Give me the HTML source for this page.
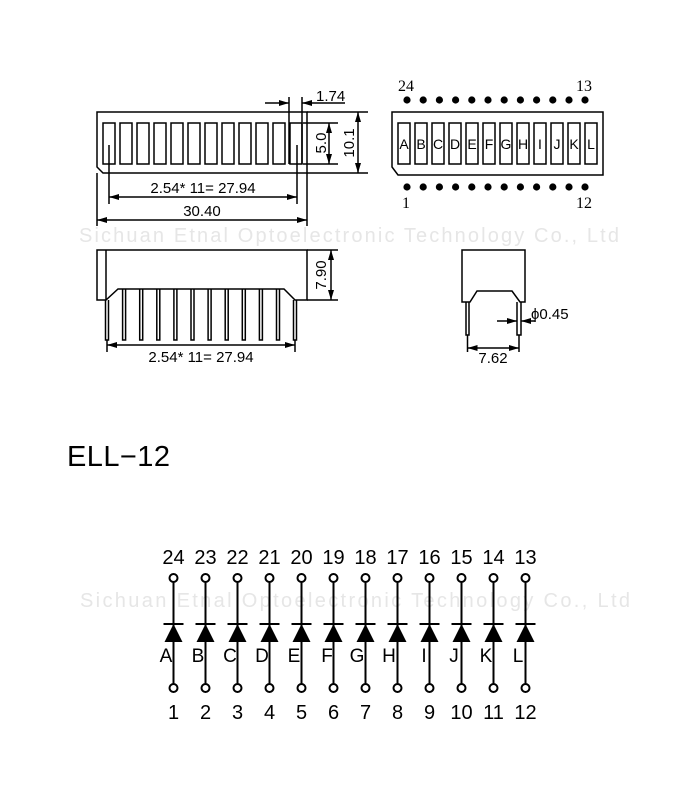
<!DOCTYPE html>
<html><head><meta charset="utf-8"><style>
html,body{margin:0;padding:0;background:#fff;}
svg{display:block;}
text{font-family:"Liberation Sans",sans-serif;fill:#000;}
.s{font-family:"Liberation Serif",serif;}
</style></head><body>
<svg width="700" height="800" viewBox="0 0 700 800" xmlns="http://www.w3.org/2000/svg">
<defs>
<marker id="ar" markerWidth="10" markerHeight="6" refX="10" refY="3" orient="auto" markerUnits="userSpaceOnUse"><path d="M0,0 L10,3 L0,6 Z" fill="#000"/></marker>
</defs>
<g stroke="#000" stroke-width="1.5" fill="none">
<path d="M97,112 H307 V173 H103 L97,167 Z"/>
<rect x="103" y="123" width="12" height="41"/><rect x="120" y="123" width="12" height="41"/><rect x="137" y="123" width="12" height="41"/><rect x="154" y="123" width="12" height="41"/><rect x="171" y="123" width="12" height="41"/><rect x="188" y="123" width="12" height="41"/><rect x="205" y="123" width="12" height="41"/><rect x="222" y="123" width="12" height="41"/><rect x="239" y="123" width="12" height="41"/><rect x="256" y="123" width="12" height="41"/><rect x="273" y="123" width="12" height="41"/><rect x="290" y="123" width="12" height="41"/>
<path d="M307,112 H368 M307,173 H368 M303,123 H338 M303,164 H338"/>
<path d="M358,112 V173"/>
<path d="M329,123 V164"/>
<path d="M289,97 V164 M302,97 V164"/>
<path d="M265,103 H289" marker-end="url(#ar)"/>
<path d="M345,103 H302" marker-end="url(#ar)"/>
<path d="M109,145 V204 M297,145 V204"/>
<path d="M109,197 H297"/>
<path d="M97,173 V226 M307,173 V226"/>
<path d="M97,220 H307"/>
</g>
<g fill="#000">
<path d="M358,112 l-3,10 h6 Z M358,173 l-3,-10 h6 Z M329,123 l-3,10 h6 Z M329,164 l-3,-10 h6 Z"/>
<path d="M109,197 l10,-3 v6 Z M297,197 l-10,-3 v6 Z M97,220 l10,-3 v6 Z M307,220 l-10,-3 v6 Z"/>
</g>
<text x="316" y="101" font-size="15">1.74</text>
<text x="326" y="143" font-size="15" transform="rotate(-90 326 143)" text-anchor="middle">5.0</text>
<text x="354" y="143" font-size="15" transform="rotate(-90 354 143)" text-anchor="middle">10.1</text>
<text x="203" y="193" font-size="15" text-anchor="middle">2.54* 11= 27.94</text>
<text x="202" y="216" font-size="15" text-anchor="middle">30.40</text>

<g fill="#000">
<circle cx="407" cy="100" r="3.6"/><circle cx="423.2" cy="100" r="3.6"/><circle cx="439.4" cy="100" r="3.6"/><circle cx="455.6" cy="100" r="3.6"/><circle cx="471.8" cy="100" r="3.6"/><circle cx="488" cy="100" r="3.6"/><circle cx="504.2" cy="100" r="3.6"/><circle cx="520.4" cy="100" r="3.6"/><circle cx="536.6" cy="100" r="3.6"/><circle cx="552.8" cy="100" r="3.6"/><circle cx="569" cy="100" r="3.6"/><circle cx="585" cy="100" r="3.6"/>
<circle cx="407" cy="187" r="3.6"/><circle cx="423.2" cy="187" r="3.6"/><circle cx="439.4" cy="187" r="3.6"/><circle cx="455.6" cy="187" r="3.6"/><circle cx="471.8" cy="187" r="3.6"/><circle cx="488" cy="187" r="3.6"/><circle cx="504.2" cy="187" r="3.6"/><circle cx="520.4" cy="187" r="3.6"/><circle cx="536.6" cy="187" r="3.6"/><circle cx="552.8" cy="187" r="3.6"/><circle cx="569" cy="187" r="3.6"/><circle cx="585" cy="187" r="3.6"/>
</g>
<text class="s" x="398" y="91" font-size="16">24</text>
<text class="s" x="576" y="91" font-size="16">13</text>
<text class="s" x="402" y="208" font-size="16">1</text>
<text class="s" x="576" y="208" font-size="16">12</text>
<g stroke="#000" stroke-width="1.5" fill="none">
<path d="M392,112 H603 V175 H398 L392,167 Z"/>
<rect x="398" y="123" width="12" height="41"/><rect x="415" y="123" width="12" height="41"/><rect x="432" y="123" width="12" height="41"/><rect x="449" y="123" width="12" height="41"/><rect x="466" y="123" width="12" height="41"/><rect x="483" y="123" width="12" height="41"/><rect x="500" y="123" width="12" height="41"/><rect x="517" y="123" width="12" height="41"/><rect x="534" y="123" width="12" height="41"/><rect x="551" y="123" width="12" height="41"/><rect x="568" y="123" width="12" height="41"/><rect x="585" y="123" width="12" height="41"/>
</g>
<g font-size="14" text-anchor="middle">
<text x="404" y="149">A</text><text x="421" y="149">B</text><text x="438" y="149">C</text><text x="455" y="149">D</text><text x="472" y="149">E</text><text x="489" y="149">F</text><text x="506" y="149">G</text><text x="523" y="149">H</text><text x="540" y="149">I</text><text x="557" y="149">J</text><text x="574" y="149">K</text><text x="591" y="149">L</text>
</g>

<g stroke="#000" stroke-width="1.5" fill="none">
<path d="M97,250 H307 V300 H295 L284,289 H118 L106,300 H97 Z M106,250 V300"/>
<path d="M307,250 H338 M307,300 H338 M331,250 V300"/>
<path d="M105.5,300 V340 H108.5 V300 M293.5,300 V340 H296.5 V300"/>
<path d="M122.6,289 V340 H125.6 V289 M139.7,289 V340 H142.7 V289 M156.8,289 V340 H159.8 V289 M173.9,289 V340 H176.9 V289 M191,289 V340 H194 V289 M208.1,289 V340 H211.1 V289 M225.2,289 V340 H228.2 V289 M242.3,289 V340 H245.3 V289 M259.4,289 V340 H262.4 V289 M276.5,289 V340 H279.5 V289"/>
<path d="M107,340 V352 M295,340 V352 M107,345 H295"/>
<path d="M462,250 H525 V302 H520 L512,291 H477 L470,302 H462 Z"/>
<path d="M466,302 V335 H469 V302 M517,302 V335 H521 V302"/>
<path d="M467.5,335 V352 M519,335 V352 M467.5,348 H519"/>
<path d="M497,321 H517" marker-end="url(#ar)"/>
<path d="M535,321 H521" marker-end="url(#ar)"/>
</g>
<g fill="#000">
<path d="M331,250 l-3,10 h6 Z M331,300 l-3,-10 h6 Z M107,345 l10,-3 v6 Z M295,345 l-10,-3 v6 Z M467.5,348 l10,-3 v6 Z M519,348 l-10,-3 v6 Z"/>
</g>
<text x="326" y="275" font-size="15" transform="rotate(-90 326 275)" text-anchor="middle">7.90</text>
<text x="201" y="362" font-size="15" text-anchor="middle">2.54* 11= 27.94</text>
<text x="493" y="363" font-size="15" text-anchor="middle">7.62</text>
<text x="531" y="319" font-size="15">ϕ0.45</text>

<text x="349" y="242" font-size="20" text-anchor="middle" style="fill:#e6e6e6" textLength="540">Sichuan Etnal Optoelectronic Technology Co., Ltd</text>

<text x="67" y="466" font-size="29" textLength="103" lengthAdjust="spacing">ELL−12</text>

<text x="355" y="607" font-size="20" text-anchor="middle" style="fill:#e6e6e6" textLength="550">Sichuan Etnal Optoelectronic Technology Co., Ltd</text>
<g stroke="#000" stroke-width="2" fill="#fff">
<path d="M173.5,582 V684 M205.5,582 V684 M237.5,582 V684 M269.5,582 V684 M301.5,582 V684 M333.5,582 V684 M365.5,582 V684 M397.5,582 V684 M429.5,582 V684 M461.5,582 V684 M493.5,582 V684 M525.5,582 V684"/>
<path d="M163.5,624 h20 M195.5,624 h20 M227.5,624 h20 M259.5,624 h20 M291.5,624 h20 M323.5,624 h20 M355.5,624 h20 M387.5,624 h20 M419.5,624 h20 M451.5,624 h20 M483.5,624 h20 M515.5,624 h20"/>
<circle cx="173.5" cy="578" r="4"/><circle cx="205.5" cy="578" r="4"/><circle cx="237.5" cy="578" r="4"/><circle cx="269.5" cy="578" r="4"/><circle cx="301.5" cy="578" r="4"/><circle cx="333.5" cy="578" r="4"/><circle cx="365.5" cy="578" r="4"/><circle cx="397.5" cy="578" r="4"/><circle cx="429.5" cy="578" r="4"/><circle cx="461.5" cy="578" r="4"/><circle cx="493.5" cy="578" r="4"/><circle cx="525.5" cy="578" r="4"/>
<circle cx="173.5" cy="688" r="4"/><circle cx="205.5" cy="688" r="4"/><circle cx="237.5" cy="688" r="4"/><circle cx="269.5" cy="688" r="4"/><circle cx="301.5" cy="688" r="4"/><circle cx="333.5" cy="688" r="4"/><circle cx="365.5" cy="688" r="4"/><circle cx="397.5" cy="688" r="4"/><circle cx="429.5" cy="688" r="4"/><circle cx="461.5" cy="688" r="4"/><circle cx="493.5" cy="688" r="4"/><circle cx="525.5" cy="688" r="4"/>
</g>
<g fill="#000">
<path d="M173.5,624 l-9,18 h18 Z M205.5,624 l-9,18 h18 Z M237.5,624 l-9,18 h18 Z M269.5,624 l-9,18 h18 Z M301.5,624 l-9,18 h18 Z M333.5,624 l-9,18 h18 Z M365.5,624 l-9,18 h18 Z M397.5,624 l-9,18 h18 Z M429.5,624 l-9,18 h18 Z M461.5,624 l-9,18 h18 Z M493.5,624 l-9,18 h18 Z M525.5,624 l-9,18 h18 Z"/>
</g>
<g font-size="20" text-anchor="middle">
<text x="173.5" y="564">24</text><text x="205.5" y="564">23</text><text x="237.5" y="564">22</text><text x="269.5" y="564">21</text><text x="301.5" y="564">20</text><text x="333.5" y="564">19</text><text x="365.5" y="564">18</text><text x="397.5" y="564">17</text><text x="429.5" y="564">16</text><text x="461.5" y="564">15</text><text x="493.5" y="564">14</text><text x="525.5" y="564">13</text>
<text x="173.5" y="719">1</text><text x="205.5" y="719">2</text><text x="237.5" y="719">3</text><text x="269.5" y="719">4</text><text x="301.5" y="719">5</text><text x="333.5" y="719">6</text><text x="365.5" y="719">7</text><text x="397.5" y="719">8</text><text x="429.5" y="719">9</text><text x="461.5" y="719">10</text><text x="493.5" y="719">11</text><text x="525.5" y="719">12</text>
</g>
<g font-size="19" text-anchor="middle">
<text x="166" y="662">A</text><text x="198" y="662">B</text><text x="230" y="662">C</text><text x="262" y="662">D</text><text x="294" y="662">E</text><text x="327" y="662">F</text><text x="357" y="662">G</text><text x="389" y="662">H</text><text x="424" y="662">I</text><text x="454" y="662">J</text><text x="486" y="662">K</text><text x="518" y="662">L</text>
</g>
</svg>
</body></html>
